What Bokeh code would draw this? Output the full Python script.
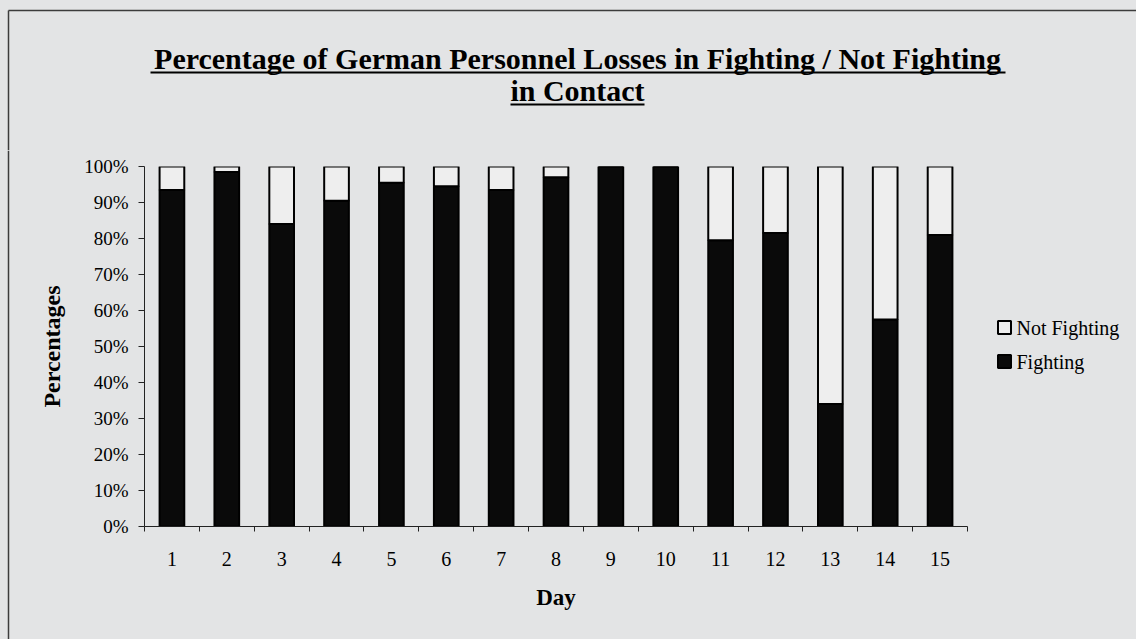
from bokeh.plotting import figure
from bokeh.layouts import column, row
from bokeh.models import Range1d, FixedTicker, PrintfTickFormatter
from bokeh.core.properties import value
from bokeh.embed import file_html
from bokeh.resources import INLINE

# ---------------- data ----------------
days = list(range(1, 16))
day_labels = [str(d) for d in days]
fighting = [93.5, 98.5, 84, 90.5, 95.5, 94.5, 93.5, 97, 100, 100, 79.5, 81.5, 34, 57.5, 81]
not_fighting = [6.5, 1.5, 16, 9.5, 4.5, 5.5, 6.5, 3, 0, 0, 20.5, 18.5, 66, 42.5, 19]
y_ticks = [0, 10, 20, 30, 40, 50, 60, 70, 80, 90, 100]
series_names = ["Not Fighting", "Fighting"]
title_lines = ["Percentage of German Personnel Losses in Fighting / Not Fighting", "in Contact"]

BG = "#e3e4e5"
LIGHT = "#eeeeee"
DARK = "#0a0a0a"
FONT = "Liberation Serif"
FRAME = "#3c3c3c"


def blank(w, h):
    f = figure(width=w, height=h, output_backend="svg", toolbar_location=None,
               x_range=Range1d(0, w), y_range=Range1d(h, 0),
               x_axis_location=None, y_axis_location=None, min_border=0)
    f.frame_align = False
    f.background_fill_color = BG
    f.border_fill_color = BG
    f.outline_line_color = None
    f.grid.visible = False
    return f


# ---------------- title panel ----------------
TOP_H = 150
top = blank(1136, TOP_H)
top.segment(x0=[8, 8], y0=[10, 10], x1=[1136, 8], y1=[10, TOP_H], line_color=FRAME, line_width=1.5)
top.text(x=[577, 577], y=[58, 90], text=title_lines, text_font=value(FONT),
         text_font_style="bold", text_font_size="30px", text_align="center",
         text_baseline="middle", text_color="black")
top.segment(x0=[150, 510], y0=[72, 104], x1=[1005, 644], y1=[72, 104], line_color="black", line_width=2)

# ---------------- left strip (outer frame line) ----------------
MAIN_H = 639 - TOP_H
left = blank(12, MAIN_H)
left.segment(x0=[8], y0=[0], x1=[8], y1=[MAIN_H], line_color=FRAME, line_width=1.5)

# ---------------- main chart ----------------
p = figure(width=963, height=MAIN_H, output_backend="svg", toolbar_location=None,
           x_range=Range1d(0.5, 15.5), y_range=Range1d(0, 100),
           min_border_left=132, min_border_right=8, min_border_top=16, min_border_bottom=113)
p.frame_align = False
p.background_fill_color = BG
p.border_fill_color = BG
p.outline_line_color = None
p.xgrid.visible = False
p.ygrid.visible = False

tops_nf = [f + n for f, n in zip(fighting, not_fighting)]
p.vbar(x=days, bottom=0, top=fighting, width=0.45, fill_color=DARK,
       line_color="black", line_width=2)
p.vbar(x=days, bottom=fighting, top=tops_nf, width=0.45, fill_color=LIGHT,
       line_color="black", line_width=2)

xa = p.xaxis[0]
xa.ticker = FixedTicker(ticks=days, minor_ticks=[d - 0.5 for d in days] + [15.5])
xa.major_label_overrides = {d: s for d, s in zip(days, day_labels)}
xa.major_tick_out = 0
xa.major_tick_in = 0
xa.minor_tick_out = 5
xa.minor_tick_in = 0
xa.minor_tick_line_color = "#222222"
xa.axis_line_color = "#222222"
xa.major_label_text_font = FONT
xa.major_label_text_font_size = "20px"
xa.major_label_text_color = "black"
xa.major_label_standoff = 20
xa.axis_label = "Day"
xa.axis_label_text_font = FONT
xa.axis_label_text_font_style = "bold"
xa.axis_label_text_font_size = "23px"
xa.axis_label_text_color = "black"
xa.axis_label_standoff = 16

ya = p.yaxis[0]
ya.ticker = FixedTicker(ticks=y_ticks, minor_ticks=[])
ya.formatter = PrintfTickFormatter(format="%d%%")
ya.major_tick_out = 6
ya.major_tick_in = 0
ya.major_tick_line_color = "#222222"
ya.axis_line_color = "#222222"
ya.major_label_text_font = FONT
ya.major_label_text_font_size = "19px"
ya.major_label_text_color = "black"
ya.major_label_standoff = 10
ya.axis_label = "Percentages"
ya.axis_label_text_font = FONT
ya.axis_label_text_font_style = "bold"
ya.axis_label_text_font_size = "24px"
ya.axis_label_text_color = "black"
ya.axis_label_standoff = 16

# ---------------- right panel with legend ----------------
right = blank(161, MAIN_H)
leg_y = [327 - TOP_H, 361 - TOP_H]
right.rect(x=[29, 29], y=leg_y, width=13, height=13, fill_color=[LIGHT, DARK],
           line_color="black", line_width=2)
right.text(x=[41, 41], y=leg_y, text=series_names, text_font=value(FONT),
           text_font_size="20px", text_align="left", text_baseline="middle", text_color="black")

bg_style = {"background-color": BG}
layout = column(top, row(left, p, right, spacing=0, styles=bg_style), spacing=0, styles=bg_style)
open("out.html", "w").write(file_html(layout, INLINE))
